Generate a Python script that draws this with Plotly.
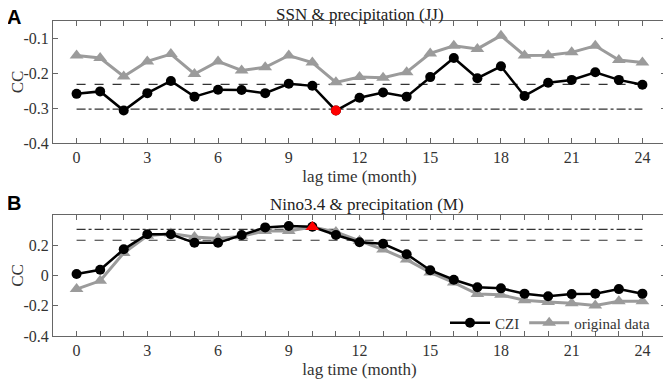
import plotly.graph_objects as go

lag = list(range(25))

# Panel A: SSN & precipitation (JJ)
a_czi = [-0.259, -0.252, -0.307, -0.257, -0.222, -0.267, -0.247, -0.248, -0.257, -0.230,
         -0.236, -0.307, -0.270, -0.255, -0.267, -0.211, -0.156, -0.214, -0.180, -0.265,
         -0.227, -0.219, -0.197, -0.219, -0.233]
a_orig = [-0.149, -0.156, -0.209, -0.166, -0.145, -0.202, -0.166, -0.192, -0.183, -0.149,
          -0.169, -0.226, -0.211, -0.213, -0.197, -0.143, -0.121, -0.130, -0.092, -0.149,
          -0.148, -0.140, -0.121, -0.162, -0.169]
a_dash = -0.232
a_dashdot = -0.303
a_mark_x = 11
a_mark_y = -0.307

# Panel B: Nino3.4 & precipitation (M)
b_czi = [0.010, 0.038, 0.173, 0.273, 0.273, 0.216, 0.216, 0.267, 0.318, 0.327,
         0.322, 0.268, 0.220, 0.210, 0.141, 0.035, -0.028, -0.078, -0.085, -0.120,
         -0.137, -0.123, -0.120, -0.090, -0.120]
b_orig = [-0.090, -0.035, 0.149, 0.262, 0.277, 0.255, 0.244, 0.259, 0.295, 0.295,
          0.321, 0.288, 0.229, 0.172, 0.105, 0.020, -0.047, -0.123, -0.128, -0.163,
          -0.175, -0.184, -0.199, -0.171, -0.171]
b_dash = 0.233
b_dashdot = 0.305
b_mark_x = 10
b_mark_y = 0.321

x_ticktext = [str(v) if v % 3 == 0 else "" for v in lag]
a_yticks = [-0.4, -0.3, -0.2, -0.1]
a_yticktext = ["-0.4", "-0.3", "-0.2", "-0.1"]
b_yticks = [-0.4, -0.2, 0.0, 0.2]
b_yticktext = ["-0.4", "-0.2", "0", "0.2"]

BLACK = "#000000"
GRAY = "#9b9b9b"
LINEC = "#333333"
FONT = "Liberation Serif"

fig = go.Figure()

def add_panel(xa, ya, czi, orig, dash, dashdot, mx, my, msym, show):
    fig.add_trace(go.Scatter(x=[lag[0], lag[-1]], y=[dashdot, dashdot], mode="lines",
                             line=dict(color=LINEC, width=1.2, dash="dashdot"),
                             xaxis=xa, yaxis=ya, showlegend=False, hoverinfo="skip"))
    fig.add_trace(go.Scatter(x=[lag[0], lag[-1]], y=[dash, dash], mode="lines",
                             line=dict(color=LINEC, width=1.2, dash="dash"),
                             xaxis=xa, yaxis=ya, showlegend=False, hoverinfo="skip"))
    fig.add_trace(go.Scatter(x=lag, y=orig, mode="lines+markers", name="original data",
                             line=dict(color=GRAY, width=3),
                             marker=dict(symbol="triangle-up", size=12, color=GRAY),
                             xaxis=xa, yaxis=ya, showlegend=show))
    fig.add_trace(go.Scatter(x=lag, y=czi, mode="lines+markers", name="CZI",
                             line=dict(color=BLACK, width=2.5),
                             marker=dict(symbol="circle", size=10, color=BLACK),
                             xaxis=xa, yaxis=ya, showlegend=show))
    fig.add_trace(go.Scatter(x=[mx], y=[my], mode="markers",
                             marker=dict(symbol=msym, size=12 if msym != "circle" else 10, color="#ff0000"),
                             xaxis=xa, yaxis=ya, showlegend=False))

add_panel("x", "y", a_czi, a_orig, a_dash, a_dashdot, a_mark_x, a_mark_y, "circle", False)
add_panel("x2", "y2", b_czi, b_orig, b_dash, b_dashdot, b_mark_x, b_mark_y, "triangle-up", True)

# page body has an 8px margin: the figure is drawn 8px in from the window corner
OFF = 8
W, H = 671 - OFF, 386 - OFF
def px_x(p): return (p - OFF) / W
def px_y(p): return 1 - (p - OFF) / H

axis_common = dict(showline=True, mirror="ticks", linecolor="#666666", linewidth=1,
                   ticks="inside", ticklen=5, tickcolor="#666666", showgrid=False,
                   zeroline=False, automargin=False,
                   tickfont=dict(family=FONT, size=16, color="#333333"))
title_font = dict(family=FONT, size=17, color="#333333")

fig.update_layout(
    width=W, height=H, margin=dict(l=0, r=0, t=0, b=0, autoexpand=False),
    plot_bgcolor="white", paper_bgcolor="white",
    font=dict(family=FONT, size=16, color="#333333"),
    xaxis=dict(domain=[px_x(53), px_x(666)], range=[-1, 25], anchor="y",
               tickvals=lag, ticktext=x_ticktext,
               title=dict(text="lag time (month)", standoff=4, font=title_font),
               **axis_common),
    yaxis=dict(domain=[px_y(143), px_y(21)], range=[-0.4, -0.05], anchor="x",
               tickvals=a_yticks, ticktext=a_yticktext,
               title=dict(text="CC", standoff=1, font=title_font),
               **axis_common),
    xaxis2=dict(domain=[px_x(53), px_x(666)], range=[-1, 25], anchor="y2",
                tickvals=lag, ticktext=x_ticktext,
                title=dict(text="lag time (month)", standoff=4, font=title_font),
                **axis_common),
    yaxis2=dict(domain=[px_y(336), px_y(215)], range=[-0.4, 0.4], anchor="x2",
                tickvals=b_yticks, ticktext=b_yticktext,
                title=dict(text="CC", standoff=1, font=title_font),
                **axis_common),
    legend=dict(orientation="h", x=px_x(655), xanchor="right", y=px_y(323), yanchor="middle",
                bgcolor="rgba(255,255,255,0)", font=dict(family=FONT, size=15, color="#333333"),
                traceorder="reversed", itemwidth=40, tracegroupgap=0),
    annotations=[
        dict(text="<b>A</b>", x=px_x(14), y=px_y(17), xref="paper", yref="paper",
             xanchor="center", yanchor="middle",
             showarrow=False, font=dict(family="Liberation Sans", size=20, color="black")),
        dict(text="<b>B</b>", x=px_x(14), y=px_y(203), xref="paper", yref="paper",
             xanchor="center", yanchor="middle",
             showarrow=False, font=dict(family="Liberation Sans", size=20, color="black")),
        dict(text="SSN & precipitation (JJ)", x=px_x(360), y=px_y(15), xref="paper", yref="paper",
             xanchor="center", yanchor="middle",
             showarrow=False, font=dict(family=FONT, size=17, color="#222222")),
        dict(text="Nino3.4 & precipitation (M)", x=px_x(367), y=px_y(204), xref="paper", yref="paper",
             xanchor="center", yanchor="middle",
             showarrow=False, font=dict(family=FONT, size=17, color="#222222")),
    ],
)

fig.write_html("out.html")
